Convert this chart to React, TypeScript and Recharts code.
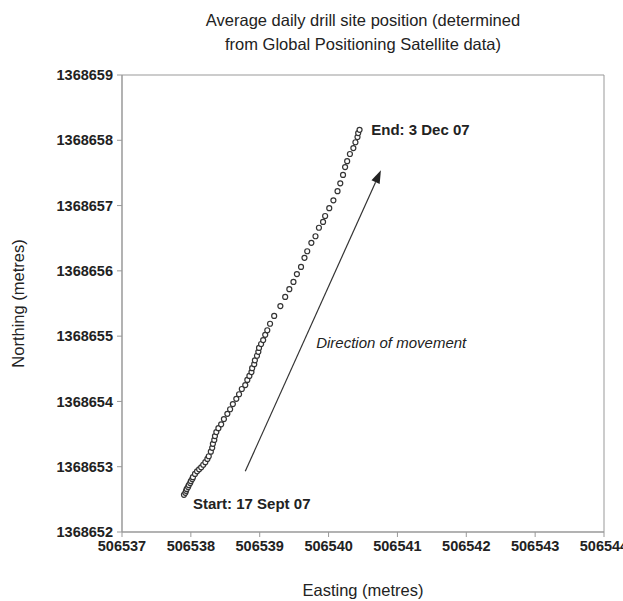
import {
  ScatterChart,
  Scatter,
  XAxis,
  YAxis,
  ReferenceArea,
  ReferenceLine,
  ReferenceDot,
  Label,
} from 'recharts'

const eastingTicks = [506537, 506538, 506539, 506540, 506541, 506542, 506543, 506544]
const northingTicks = [1368652, 1368653, 1368654, 1368655, 1368656, 1368657, 1368658, 1368659]

// daily positions, 17 Sept 07 -> 3 Dec 07
const easting = [
  506537.9, 506537.92, 506537.93, 506537.94, 506537.96, 506537.97, 506537.99, 506538.0,
  506538.02, 506538.03, 506538.06, 506538.09, 506538.12, 506538.15, 506538.18, 506538.21,
  506538.24, 506538.26, 506538.29, 506538.31, 506538.32, 506538.34, 506538.35, 506538.37,
  506538.4, 506538.44, 506538.48, 506538.53, 506538.57, 506538.61, 506538.66, 506538.7,
  506538.74, 506538.79, 506538.82, 506538.85, 506538.88, 506538.89, 506538.92, 506538.93,
  506538.96, 506538.98, 506538.99, 506539.02, 506539.05, 506539.08, 506539.11, 506539.15,
  506539.21, 506539.3, 506539.37, 506539.43, 506539.49, 506539.54, 506539.6, 506539.65,
  506539.69, 506539.75, 506539.81, 506539.86, 506539.92, 506539.95, 506540.01, 506540.07,
  506540.13, 506540.17, 506540.21, 506540.24, 506540.27, 506540.31, 506540.36, 506540.39,
  506540.42, 506540.43, 506540.45,
]
const northing = [
  1368652.57, 1368652.6, 1368652.63, 1368652.66, 1368652.69, 1368652.72, 1368652.75, 1368652.78,
  1368652.81, 1368652.84, 1368652.89, 1368652.93, 1368652.96, 1368652.99, 1368653.03, 1368653.07,
  1368653.12, 1368653.16, 1368653.23, 1368653.29, 1368653.35, 1368653.41, 1368653.47, 1368653.53,
  1368653.59, 1368653.65, 1368653.73, 1368653.81, 1368653.88, 1368653.96, 1368654.04, 1368654.11,
  1368654.19, 1368654.25, 1368654.33, 1368654.39, 1368654.45, 1368654.51, 1368654.57, 1368654.63,
  1368654.7, 1368654.76, 1368654.82, 1368654.88, 1368654.94, 1368655.02, 1368655.09, 1368655.19,
  1368655.31, 1368655.46, 1368655.6, 1368655.72, 1368655.83, 1368655.95, 1368656.06, 1368656.2,
  1368656.3, 1368656.43, 1368656.53, 1368656.66, 1368656.75, 1368656.84, 1368656.96, 1368657.08,
  1368657.22, 1368657.34, 1368657.47, 1368657.59, 1368657.68, 1368657.79, 1368657.88, 1368657.97,
  1368658.05, 1368658.11, 1368658.16,
]

const arrowFrom = { x: 506538.79, y: 1368652.93 }
const arrowTo = { x: 506540.76, y: 1368657.54 }

const startNote = { x: 506538.03, y: 1368652.44, text: 'Start: 17 Sept 07' }
const endNote = { x: 506540.62, y: 1368658.16, text: 'End: 3 Dec 07' }
const dirNote = { x: 506539.82, y: 1368654.91, text: 'Direction of movement' }

const data = easting.map((x, i) => ({ x, y: northing[i] }))

const font = '"Liberation Sans", Arial, sans-serif'

function Ring(props: any) {
  return <circle cx={props.cx} cy={props.cy} r={2.5} fill="#fff" stroke="#333" strokeWidth={1.2} />
}

function Arrow(props: any) {
  const { x1, y1, x2, y2 } = props
  const a = Math.atan2(y2 - y1, x2 - x1)
  const len = 13
  const w = 4.5
  const bx = x2 - len * Math.cos(a)
  const by = y2 - len * Math.sin(a)
  const px = -Math.sin(a) * w
  const py = Math.cos(a) * w
  return (
    <g>
      <line x1={x1} y1={y1} x2={bx} y2={by} stroke="#333" strokeWidth={1.2} />
      <polygon points={`${x2},${y2} ${bx + px},${by + py} ${bx - px},${by - py}`} fill="#222" />
    </g>
  )
}

const note = (text: string, italic: boolean) => (p: any) => (
  <text
    x={p.viewBox.x}
    y={p.viewBox.y}
    dominantBaseline="central"
    fontFamily={font}
    fontSize={15}
    fontWeight={italic ? 'normal' : 'bold'}
    fontStyle={italic ? 'italic' : 'normal'}
    fill="#222"
  >
    {text}
  </text>
)

const tickStyle = { fill: '#222', fontSize: 14.5, fontWeight: 'bold', fontFamily: font }

export default function App() {
  return (
    <div style={{ position: 'absolute', left: 0, top: 0, width: 623, height: 601, background: '#fff', overflow: 'hidden' }}>
      <div
        style={{
          position: 'absolute',
          left: 122,
          width: 482,
          top: 8,
          textAlign: 'center',
          fontFamily: font,
          fontSize: 16.5,
          lineHeight: '24px',
          color: '#222',
        }}
      >
        Average daily drill site position (determined
        <br />
        from Global Positioning Satellite data)
      </div>
      <ScatterChart width={623} height={601} margin={{ top: 75, right: 19, bottom: 0, left: 0 }}>
        <XAxis
          type="number"
          dataKey="x"
          domain={[506537, 506544]}
          ticks={eastingTicks}
          interval={0}
          height={69}
          tickSize={5}
          tickMargin={4}
          stroke="#999"
          tick={tickStyle}
        >
          <Label
            content={(p: any) => (
              <text
                x={p.viewBox.x + p.viewBox.width / 2}
                y={590}
                textAnchor="middle"
                dominantBaseline="central"
                fontFamily={font}
                fontSize={16.5}
                fill="#222"
              >
                Easting (metres)
              </text>
            )}
          />
        </XAxis>
        <YAxis
          type="number"
          dataKey="y"
          domain={[1368652, 1368659]}
          ticks={northingTicks}
          interval={0}
          width={122}
          tickSize={5}
          tickMargin={4}
          stroke="#999"
          tick={tickStyle}
        >
          <Label
            content={(p: any) => (
              <text
                x={18}
                y={p.viewBox.y + p.viewBox.height / 2}
                textAnchor="middle"
                dominantBaseline="central"
                transform={`rotate(-90 18 ${p.viewBox.y + p.viewBox.height / 2})`}
                fontFamily={font}
                fontSize={16.5}
                fill="#222"
              >
                Northing (metres)
              </text>
            )}
          />
        </YAxis>
        <ReferenceArea
          x1={506537}
          x2={506544}
          y1={1368652}
          y2={1368659}
          fill="none"
          fillOpacity={0}
          stroke="#999"
          strokeWidth={1}
        />
        <ReferenceLine segment={[arrowFrom, arrowTo]} shape={Arrow} />
        <Scatter data={data} isAnimationActive={false} shape={Ring} />
        <ReferenceDot x={startNote.x} y={startNote.y} r={0} stroke="none" label={note(startNote.text, false)} />
        <ReferenceDot x={endNote.x} y={endNote.y} r={0} stroke="none" label={note(endNote.text, false)} />
        <ReferenceDot x={dirNote.x} y={dirNote.y} r={0} stroke="none" label={note(dirNote.text, true)} />
      </ScatterChart>
    </div>
  )
}
